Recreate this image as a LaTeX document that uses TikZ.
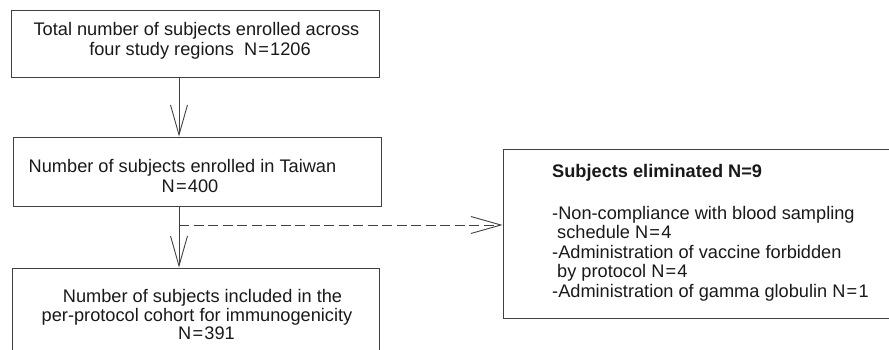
\documentclass[tikz,border=0pt]{standalone}
\usepackage{fontspec}
\setmainfont{Liberation Sans}
\usetikzlibrary{arrows.meta}
\newcommand{\eqs}{\kern1.2pt=\kern1.2pt}
\begin{document}
\begin{tikzpicture}[x=1pt,y=-1pt,
  box/.style={draw=black!75,line width=0.9pt,rectangle,inner sep=0pt},
  txt/.style={inner sep=0pt,anchor=base,font=\fontsize{18.2}{19.7}\selectfont,text=black!90},
  ltxt/.style={txt,anchor=base west},
  link/.style={draw=black!75,line width=0.9pt,-{Straight Barb[length=30pt,width=17pt,line width=0.9pt]}},
  dlink/.style={link,dash pattern=on 10pt off 4.5pt}]
\useasboundingbox (0,0) rectangle (889,350);
\clip (0,0) rectangle (889,350);
% boxes
\node[box,minimum width=368pt,minimum height=67pt] (total) at (195,43.5) {};
\node[box,minimum width=368pt,minimum height=69pt] (taiwan) at (197,171.5) {};
\node[box,minimum width=367pt,minimum height=120pt] (pp) at (195.5,328) {};
\node[box,minimum width=392pt,minimum height=169pt] (elim) at (699,233.5) {};
% texts
\node[txt] (t1a) at (196.5,36) {Total number of subjects enrolled across};
\node[txt] (t1b) at (200,56) {four study regions\ \ N\eqs1206};
\node[txt] (t2a) at (182.5,172) {Number of subjects enrolled in Taiwan};
\node[txt] (t2b) at (190,192) {N\eqs400};
\node[txt] (t3a) at (202.5,302) {Number of subjects included in the};
\node[txt] (t3b) at (197,321) {per-protocol cohort for immunogenicity};
\node[txt] (t3c) at (206.5,339) {N\eqs391};
\node[ltxt,font=\fontsize{18.2}{19.7}\selectfont\bfseries] (e0) at (552,177) {Subjects eliminated N=9};
\node[ltxt] (e1) at (552,219) {-Non-compliance with blood sampling};
\node[ltxt] (e2) at (557,238) {schedule N\eqs4};
\node[ltxt] (e3) at (552,258) {-Administration of vaccine forbidden};
\node[ltxt] (e4) at (557,277) {by protocol N\eqs4};
\node[ltxt] (e5) at (552,297) {-Administration of gamma globulin N\eqs1};
% connectors
\coordinate (spine) at (179,0);
\coordinate (branch) at (179,225);
\draw[link] (spine |- total.south) -- (spine |- taiwan.north);
\draw[link] (spine |- taiwan.south) -- (spine |- pp.north);
\draw[dlink] (branch) -- (branch -| elim.west);
\end{tikzpicture}
\end{document}
